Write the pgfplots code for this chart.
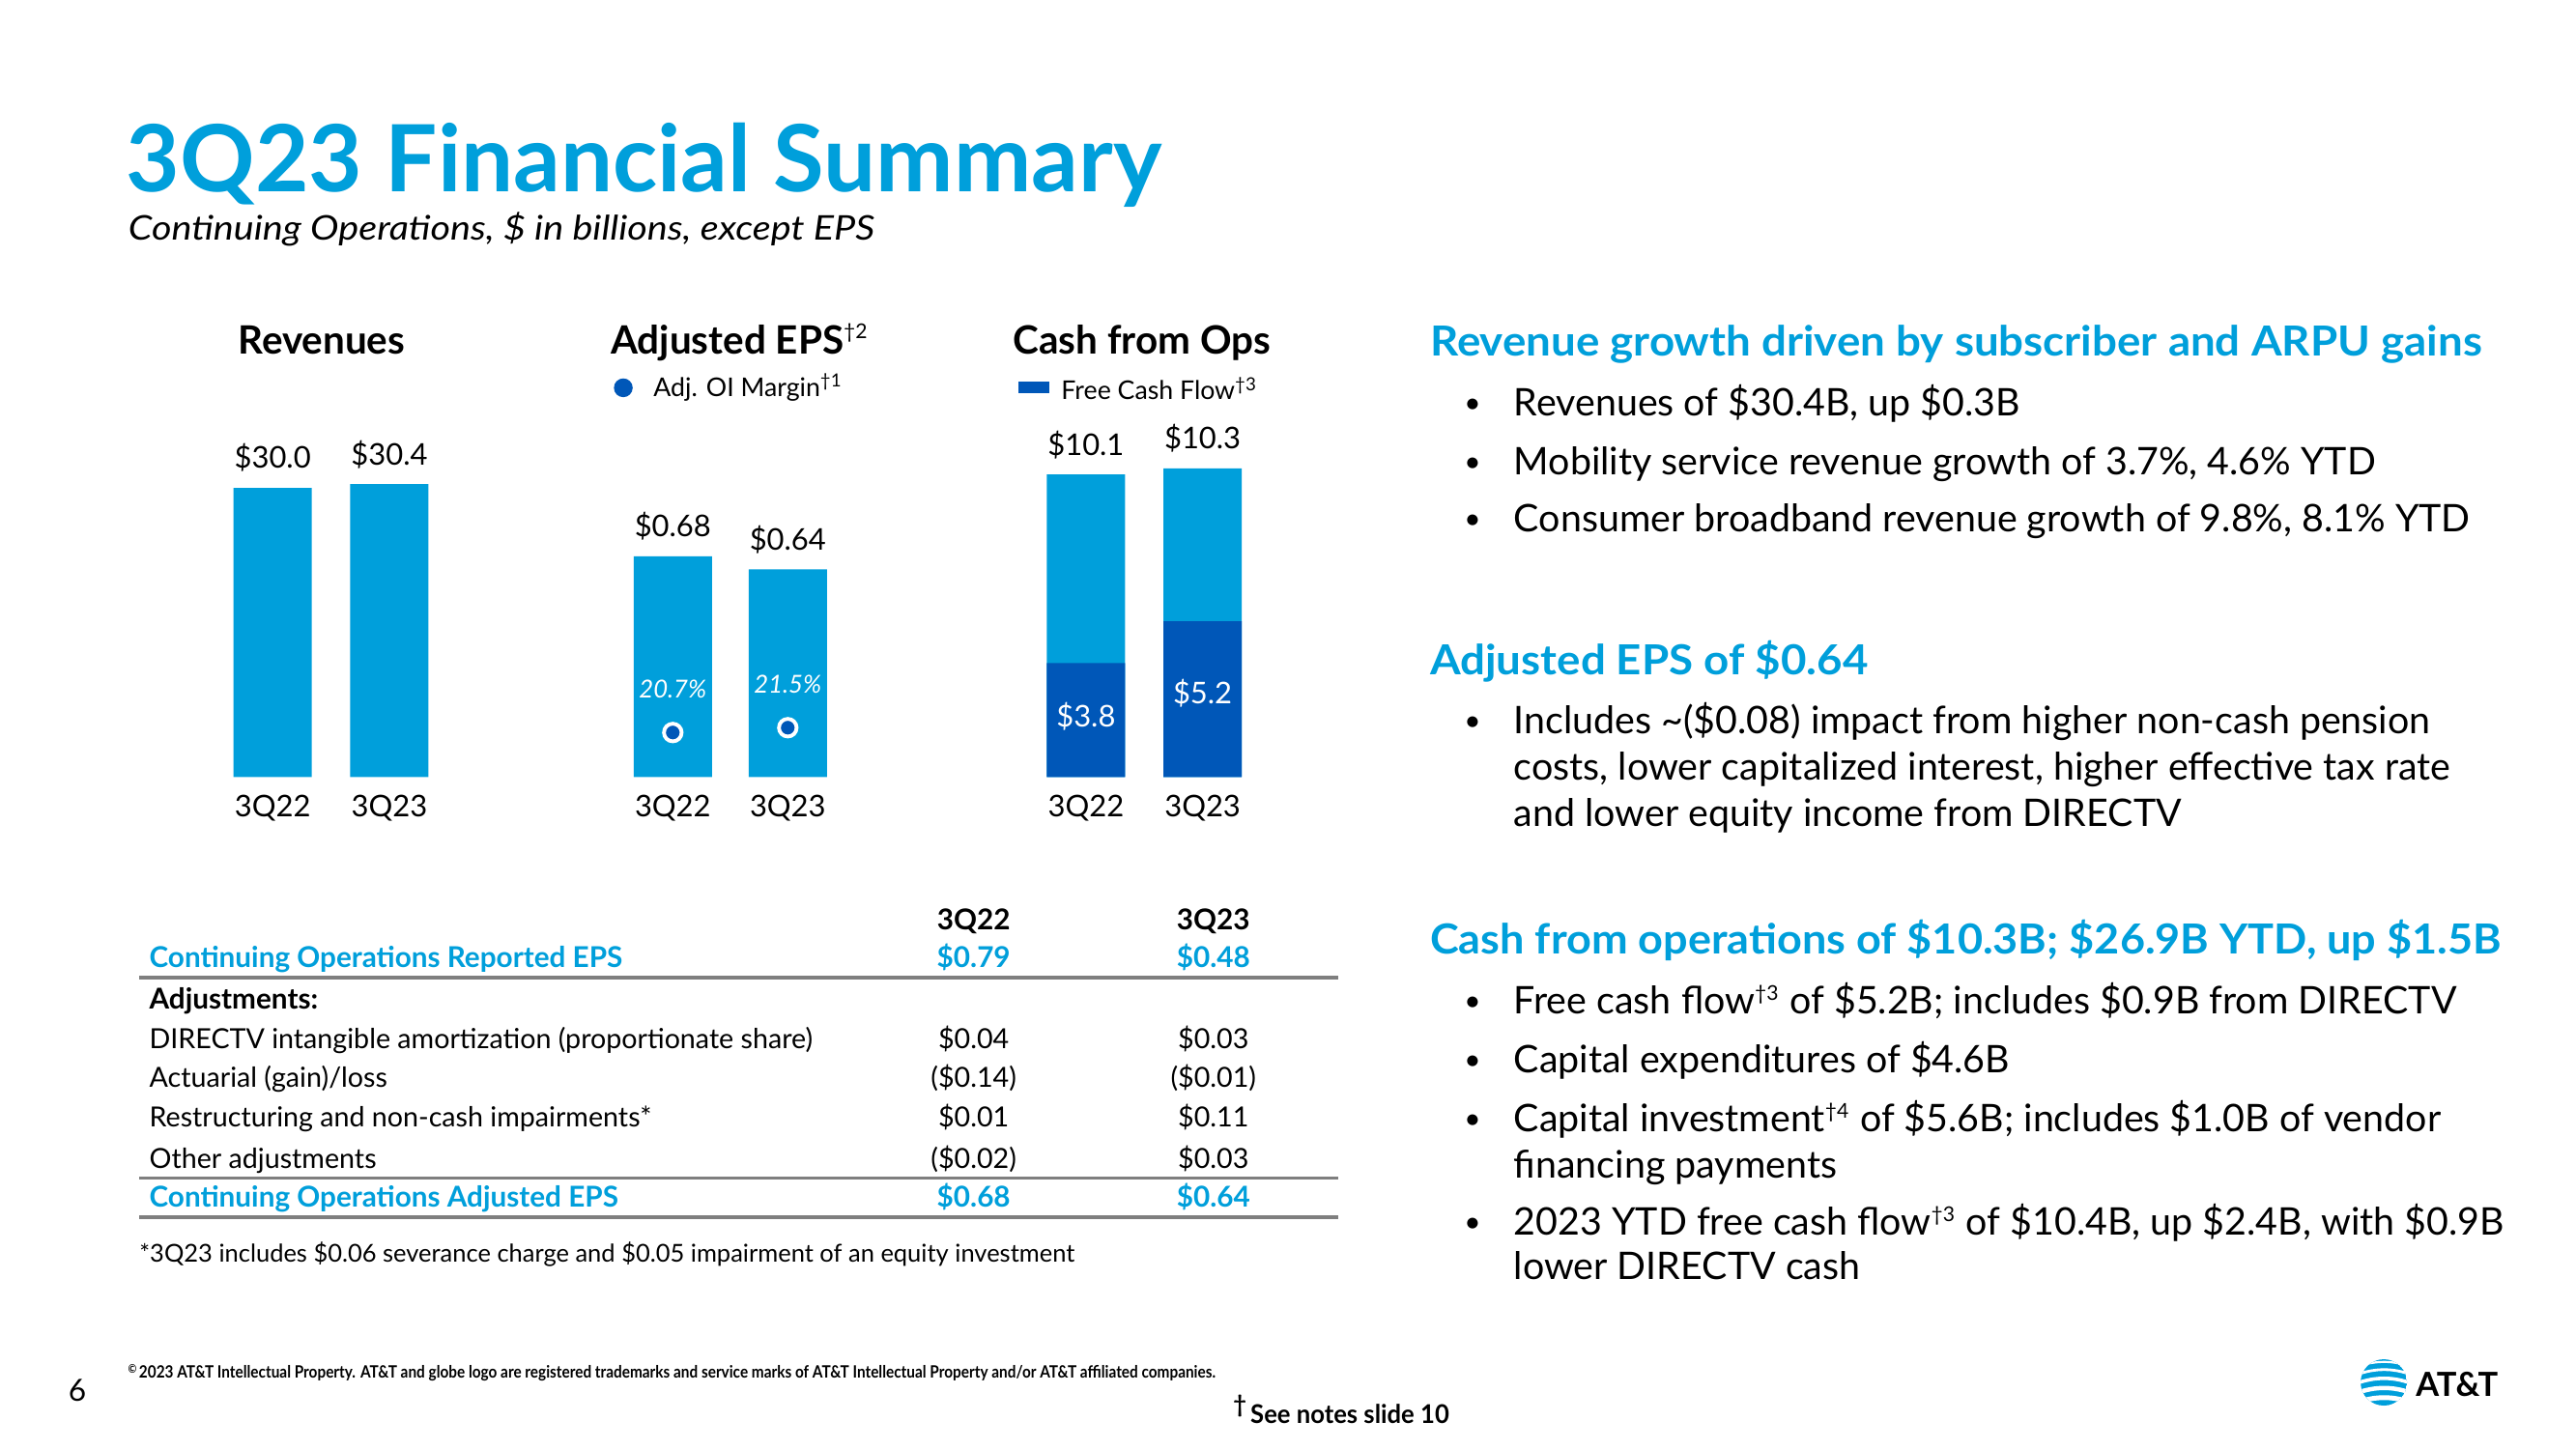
\documentclass[border=0pt]{standalone}
\usepackage{pgfplots}
\pgfplotsset{compat=1.18}
\usepackage{fontspec}
\setmainfont{Lato}
\usepackage{graphicx}
\definecolor{attblue}{HTML}{009FDB}
\definecolor{attdark}{HTML}{0057B8}
\definecolor{rulegray}{HTML}{7F7F7F}
\newcommand\fsz[1]{\fontsize{#1}{#1}\selectfont}
\newcommand\lblf{\fsz{8.8pt}}
\newcommand\bodyf{\fsz{11.2pt}}
\newcommand\headf{\fsz{12.2pt}\bfseries\color{attblue}}
\newcommand\tabf{\fsz{8.15pt}}
\newcommand\tabbf{\fsz{8.45pt}\bfseries}
\newcommand\hs[1]{\scalebox{1.065}[1]{#1}}
\newcommand\supx[1]{\textsuperscript{\fsz{6pt}#1}}
\pgfplotsset{
  /pgf/number format/assume math mode=true,
  barbase/.style={
    scale only axis, clip=false, anchor=south west,
    xmin=-0.5, xmax=1.5, ymin=0,
    hide y axis,
    axis x line*=bottom, x axis line style={draw=none},
    xtick={0,1}, xticklabels={3Q22,3Q23}, major tick length=0pt,
    xticklabel style={font=\lblf, anchor=base, yshift=-0.41cm},
    ybar, bar width=0.81cm, bar shift=0pt,
  },
  toplab/.style={every node near coord/.append style={font=\lblf, text=black, anchor=center, yshift=0.31cm}},
}
\newcommand{\tabrow}[4]{%
  \node[anchor=base west] at (154.7,#1) {#2};
  \node[anchor=base] at (1008.3,#1) {#3};
  \node[anchor=base] at (1256.5,#1) {#4};}
\begin{document}
\begin{tikzpicture}
\fill[white] (0,0) rectangle (26.66,15);
\path[use as bounding box] (0,0) rectangle (26.66,15);

% ---------- Revenues ----------
\begin{axis}[barbase, toplab, at={(2.218cm,6.957cm)}, width=2.416cm, height=3.49cm, ymax=35,
  nodes near coords={\$\pgfmathprintnumber[fixed,fixed zerofill,precision=1]{\pgfplotspointmeta}}]
\addplot[fill=attblue, draw=none] coordinates {(0,30.0) (1,30.4)};
\end{axis}

% ---------- Adjusted EPS ----------
\begin{axis}[barbase, toplab, at={(6.368cm,6.957cm)}, width=2.38cm, height=3.36cm, ymax=1,
  nodes near coords={\$\pgfmathprintnumber[fixed,fixed zerofill,precision=2]{\pgfplotspointmeta}}]
\addplot[fill=attblue, draw=none] coordinates {(0,0.68) (1,0.64)};
\end{axis}
\begin{axis}[scale only axis, clip=false, anchor=south west, at={(6.368cm,6.957cm)}, width=2.38cm, height=3.36cm,
  xmin=-0.5, xmax=1.5, ymin=13.34, ymax=67.1, hide axis,
  legend style={at={(-0.006,1.199)}, anchor=west, draw=none, fill=none, inner sep=0pt, outer sep=0pt,
    font=\fsz{7.6pt}, nodes={inner sep=0pt}, /tikz/every odd column/.append style={column sep=0.216cm}},
  legend image code/.code={\fill[attdark] (0.09cm,0cm) circle (0.09cm);}]
\addplot[only marks, mark=*, mark size=2.6pt, mark options={fill=attdark, draw=white, line width=1.1pt},
  nodes near coords={\pgfmathprintnumber[fixed,fixed zerofill,precision=1]{\pgfplotspointmeta}\%},
  every node near coord/.append style={font=\fsz{7.3pt}\itshape, text=white, anchor=center, yshift=0.45cm}]
  coordinates {(0,20.7) (1,21.5)};
\addlegendentry{Adj. OI Margin\textsuperscript{†1}}
\end{axis}

% ---------- Cash from Ops ----------
\begin{axis}[barbase, at={(10.6355cm,6.957cm)}, width=2.414cm, height=3.72cm, ymax=12,
  legend style={at={(-0.0396,1.074)}, anchor=west, draw=none, fill=none, inner sep=0pt, outer sep=0pt,
    font=\fsz{7.6pt}, nodes={inner sep=0pt}, /tikz/every odd column/.append style={column sep=0.12cm}},
  legend image code/.code={\fill[attdark] (0cm,-0.02cm) rectangle (0.325cm,0.10cm);}]
\addplot[fill=attblue, draw=none, toplab, forget plot,
  nodes near coords={\$\pgfmathprintnumber[fixed,fixed zerofill,precision=1]{\pgfplotspointmeta}}]
  coordinates {(0,10.1) (1,10.3)};
\addplot[fill=attdark, draw=none] coordinates {(0,3.8) (1,5.2)};
\addlegendentry{Free Cash Flow\textsuperscript{†3}}
\node[font=\lblf, text=white] at (axis cs:0,2.03) {\$3.8};
\node[font=\lblf, text=white] at (axis cs:1,2.8) {\$5.2};
\end{axis}

\begin{scope}[x=0.01cm, y=0.01cm, every node/.style={inner sep=0pt, outer sep=0pt}]
% title
\node[anchor=base west, font=\fsz{27.3pt}\bfseries, text=attblue] at (131,1302) {3Q23 Financial Summary};
\node[anchor=base west, font=\fsz{10pt}\itshape] at (133,1252) {\scalebox{1.125}[1]{Continuing Operations, \$ in billions, except EPS}};
% chart headings
\node[anchor=base, font=\fsz{11.5pt}\bfseries] at (333,1134.4) {Revenues};
\node[anchor=base west, font=\fsz{11.5pt}\bfseries] at (632.5,1134.4) {Adjusted EPS\textsuperscript{\fsz{6pt}\mdseries†2}};
\node[anchor=base, font=\fsz{11.5pt}\bfseries] at (1182.6,1134.4) {Cash from Ops};

% table
\begin{scope}[font=\tabf]
\node[anchor=base, font=\tabbf] at (1008.3,538) {3Q22};
\node[anchor=base, font=\tabbf] at (1256.5,538) {3Q23};
\begin{scope}[font=\tabbf, text=attblue]
\tabrow{499}{Continuing Operations Reported EPS}{\$0.79}{\$0.48}
\end{scope}
\draw[rulegray, line width=1pt] (144.5,488.3) -- (1385.7,488.3);
\node[anchor=base west, font=\tabbf] at (154.7,456) {Adjustments:};
\tabrow{415}{DIRECTV intangible amortization (proportionate share)}{\$0.04}{\$0.03}
\tabrow{375}{Actuarial (gain)/loss}{(\$0.14)}{(\$0.01)}
\tabrow{334}{Restructuring and non-cash impairments*}{\$0.01}{\$0.11}
\tabrow{291}{Other adjustments}{(\$0.02)}{\$0.03}
\draw[rulegray, line width=1pt] (144.5,280.9) -- (1385.7,280.9);
\begin{scope}[font=\tabbf, text=attblue]
\tabrow{251}{Continuing Operations Adjusted EPS}{\$0.68}{\$0.64}
\end{scope}
\draw[rulegray, line width=1pt] (144.5,240.1) -- (1385.7,240.1);
\node[anchor=base west, font=\fsz{7.25pt}] at (144.5,194) {*3Q23 includes \$0.06 severance charge and \$0.05 impairment of an equity investment};
\end{scope}

% right column
\node[anchor=base west, font=\headf] at (1481,1132) {\hs{Revenue growth driven by subscriber and ARPU gains}};
\begin{scope}[font=\bodyf]
\foreach \yy in {1070,1009,950,741,451,390,329,222}{\node[anchor=base, font=\fsz{8.5pt}] at (1525,\yy+3) {•};}
\node[anchor=base west] at (1567.7,1070) {Revenues of \$30.4B, up \$0.3B};
\node[anchor=base west] at (1567.7,1009) {Mobility service revenue growth of 3.7\%, 4.6\% YTD};
\node[anchor=base west] at (1567.7,950) {Consumer broadband revenue growth of 9.8\%, 8.1\% YTD};
\node[anchor=base west] at (1567.7,741) {Includes \textasciitilde(\$0.08) impact from higher non-cash pension};
\node[anchor=base west] at (1567.7,693) {costs, lower capitalized interest, higher effective tax rate};
\node[anchor=base west] at (1567.7,645) {and lower equity income from DIRECTV};
\node[anchor=base west] at (1567.7,451) {Free cash flow\supx{†3} of \$5.2B; includes \$0.9B from DIRECTV};
\node[anchor=base west] at (1567.7,390) {Capital expenditures of \$4.6B};
\node[anchor=base west] at (1567.7,329) {Capital investment\supx{†4} of \$5.6B; includes \$1.0B of vendor};
\node[anchor=base west] at (1567.7,281) {financing payments};
\node[anchor=base west] at (1567.7,222) {2023 YTD free cash flow\supx{†3} of \$10.4B, up \$2.4B, with \$0.9B};
\node[anchor=base west] at (1567.7,176) {lower DIRECTV cash};
\end{scope}
\node[anchor=base west, font=\headf] at (1481,802) {\hs{Adjusted EPS of \$0.64}};
\node[anchor=base west, font=\headf] at (1481,513) {\scalebox{1.05}[1]{Cash from operations of \$10.3B; \$26.9B YTD, up \$1.5B}};

% footer
\node[anchor=base, font=\fsz{9pt}] at (80,50) {6};
\node[anchor=base west, font=\fsz{5pt}\bfseries] at (132.6,74) {\scalebox{0.874}[1]{\raisebox{0.5ex}{\fsz{3.5pt}©}\,2023 AT\&T Intellectual Property. AT\&T and globe logo are registered trademarks and service marks of AT\&T Intellectual Property and/or AT\&T affiliated companies.}};
\node[anchor=base west, font=\fsz{7.6pt}\bfseries] at (1277,27) {\scalebox{0.96}[1]{\raisebox{0.8ex}{\fsz{7pt}†}\,See notes slide 10}};

% logo
\begin{scope}
\clip (2468.5,69) circle (24);
\fill[attblue] (2468.5,69) circle (24);
\foreach \dy/\w in {-17/5,-7/4.5,3/3.6,12/2.8,20/2.2}{
  \draw[white, line width=\w*0.2845pt] (2440,69+\dy-4) .. controls (2460,69+\dy+3) and (2478,69+\dy+3) .. (2497,69+\dy-4);
}
\end{scope}
\node[anchor=base west, font=\fsz{9.8pt}\bfseries] at (2501.7,55) {AT\&T};
\end{scope}
\end{tikzpicture}
\end{document}
